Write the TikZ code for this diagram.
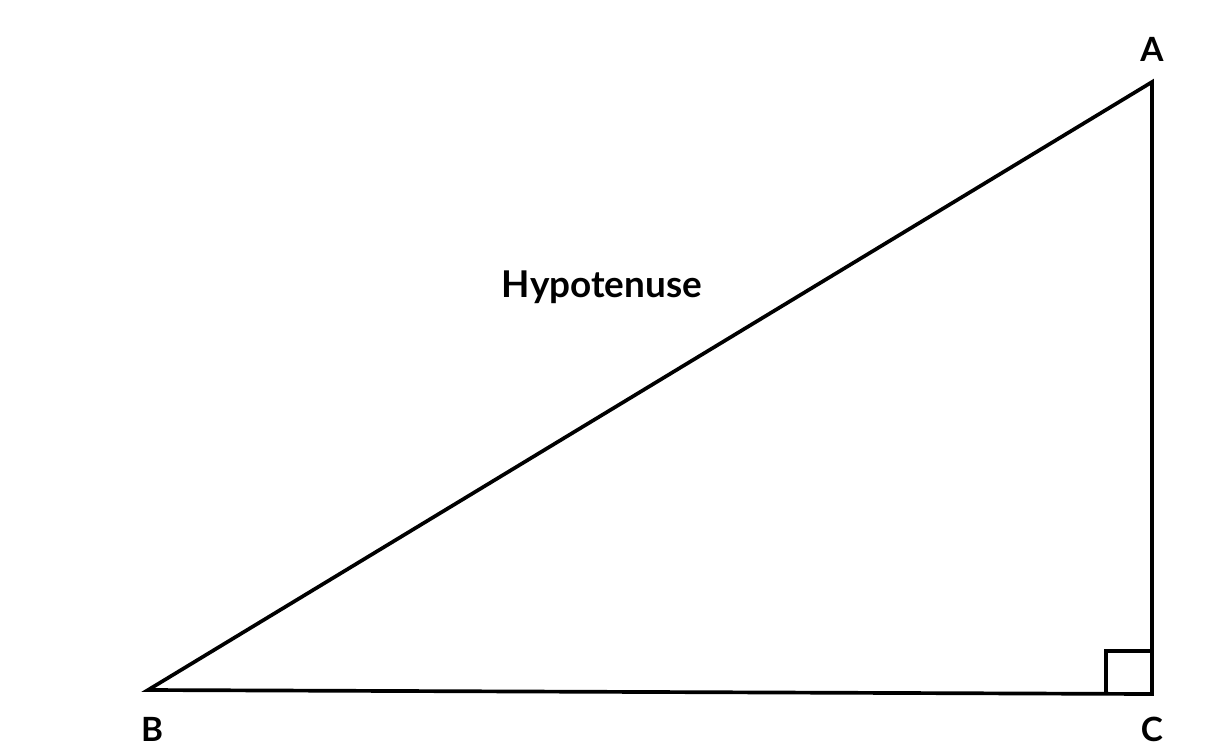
\documentclass[tikz,border=0pt]{standalone}
\usepackage{fontspec}
\setmainfont{Lato}
\usetikzlibrary{positioning}

\tikzset{
  side/.style={line width=2.1pt},
  vertex/.style={font=\bfseries\fontsize{19}{22}\selectfont, inner sep=0pt},
  caption/.style={font=\bfseries\fontsize{21}{24}\selectfont, inner sep=0pt},
}

\begin{document}
\begin{tikzpicture}[x=0.02cm, y=-0.02cm]
  \useasboundingbox (0,0) rectangle (1213,748);
  \coordinate (A) at (1152,82);
  \coordinate (B) at (148,690);
  \coordinate (C) at (1152,694);
  \node[vertex] (lA) at (1152,49) {A};
  \node[vertex] (lB) at (152,729) {B};
  \node[vertex] (lC) at (1152,729) {C};
  \node[caption] (hyp) at (602,287) {Hypotenuse};
  % triangle and right angle mark
  \draw[side] (B) -- (A) -- (C) -- cycle;
  \draw[side] (C) ++(-46,0) -- ++(0,-43) -- ++(46,0);
\end{tikzpicture}
\end{document}
